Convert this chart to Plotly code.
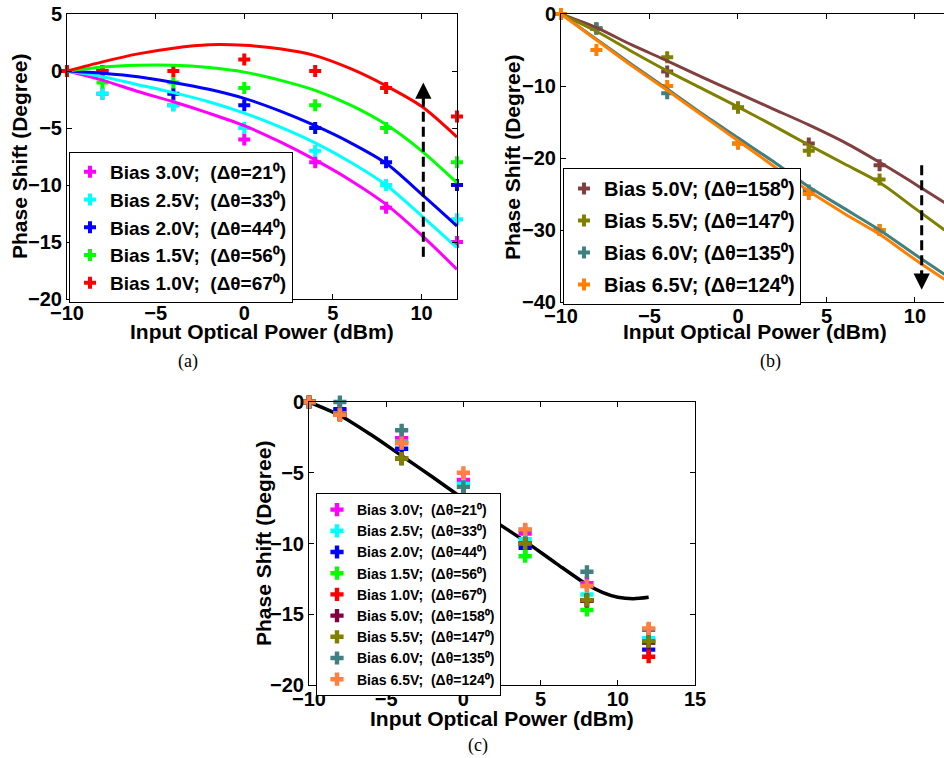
import plotly.graph_objects as go

# ---------------- Panel (a) data ----------------
a_x = [-10, -8, -4, 0, 4, 8, 12]
a_bias30 = [0, -2, -3, -6, -8, -12, -15]
a_bias25 = [0, -2, -3, -5, -7, -10, -13]
a_bias20 = [0, 0, -2, -3, -5, -8, -10]
a_bias15 = [0, -1, -1, -1.5, -3, -5, -8]
a_bias10 = [0, 0, 0, 1, 0, -1.5, -4]

a_fit_x = [-10, -8, -6, -4, -2, 0, 2, 4, 6, 8, 10, 12]
a_fit30 = [0, -0.8, -1.8, -2.7, -3.7, -4.8, -6.2, -7.8, -9.6, -11.7, -14.4, -17.4]
a_fit25 = [0, -0.5, -1.2, -1.9, -2.7, -3.7, -4.9, -6.3, -8.0, -10.0, -12.7, -15.5]
a_fit20 = [0, -0.2, -0.5, -1.0, -1.6, -2.4, -3.5, -4.8, -6.3, -8.1, -10.8, -13.6]
a_fit15 = [0, 0.35, 0.5, 0.5, 0.3, -0.1, -0.8, -1.7, -3.0, -4.7, -7.0, -9.8]
a_fit10 = [0, 0.8, 1.5, 2.0, 2.3, 2.25, 1.95, 1.35, 0.2, -1.3, -3.1, -5.8]

a_names = ["Bias 3.0V;\u00a0\u00a0(\u0394\u03b8=21\u2070)",
           "Bias 2.5V;\u00a0\u00a0(\u0394\u03b8=33\u2070)",
           "Bias 2.0V;\u00a0\u00a0(\u0394\u03b8=44\u2070)",
           "Bias 1.5V;\u00a0\u00a0(\u0394\u03b8=56\u2070)",
           "Bias 1.0V;\u00a0\u00a0(\u0394\u03b8=67\u2070)"]
a_colors = ["#FF00FF", "#00FFFF", "#0000FF", "#00FF00", "#FF0000"]

# ---------------- Panel (b) data ----------------
b_x = [-10, -8, -4, 0, 4, 8]
b_bias50 = [0, -2, -8, -13, -18, -21]
b_bias55 = [0, -2, -6, -13, -19, -23]
b_bias60 = [0, -2, -11, -18, -24.5, -30]
b_bias65 = [0, -5, -10, -18, -25, -30]

b_fit_x = [-10, -8, -6, -4, -2, 0, 2, 4, 6, 8, 10, 12]
b_fit50 = [0, -1.9, -4.3, -6.5, -8.8, -11.0, -13.2, -15.4, -17.8, -20.6, -23.6, -26.7]
b_fit55 = [0, -2.4, -5.2, -7.9, -10.4, -12.9, -15.5, -18.2, -20.8, -23.4, -27.0, -30.6]
b_fit60 = [0, -3.5, -7.0, -10.4, -13.9, -17.2, -20.5, -24.0, -27.0, -30.0, -33.4, -36.7]
b_fit65 = [0, -3.6, -7.2, -10.6, -14.1, -17.6, -21.1, -24.6, -27.7, -30.6, -34.1, -37.4]

b_names = ["Bias 5.0V; (\u0394\u03b8=158\u2070)",
           "Bias 5.5V; (\u0394\u03b8=147\u2070)",
           "Bias 6.0V; (\u0394\u03b8=135\u2070)",
           "Bias 6.5V; (\u0394\u03b8=124\u2070)"]
b_colors = ["#804040", "#808000", "#408080", "#FF8000"]

# ---------------- Panel (c) data ----------------
c_x = [-10, -8, -4, 0, 4, 8, 12]
c_bias30 = [0, -0.6, -2.55, -5.5, -9.3, -12.8, -16.8]
c_bias25 = [0, -0.8, -2.8, -5.8, -9.7, -13.6, -16.7]
c_bias20 = [0, -0.5, -3.3, -6.6, -10.3, -14.0, -17.5]
c_bias15 = [0, -0.9, -4.0, -7.0, -10.9, -14.7, -17.0]
c_bias10 = [0, -0.9, -2.9, -6.8, -10.0, -14.0, -18.0]
c_bias50 = [0, -0.9, -4.0, -6.7, -10.0, -14.05, -17.0]
c_bias55 = [0, -0.9, -4.0, -6.6, -10.0, -14.0, -16.9]
c_bias60 = [0, 0, -2.0, -6.0, -9.05, -12.0, -16.1]
c_bias65 = [0, -0.9, -2.9, -5.0, -9.0, -13.0, -16.0]

c_fit_x = [-10, -8, -6, -4, -2, 0, 2, 4, 6, 8, 9, 10, 11, 12]
c_fit_y = [0, -0.95, -2.3, -3.8, -5.3, -6.85, -8.4, -9.85, -11.4, -12.9, -13.45, -13.8, -13.9, -13.8]

c_names = a_names + ["Bias 5.0V;\u00a0\u00a0(\u0394\u03b8=158\u2070)",
                     "Bias 5.5V;\u00a0\u00a0(\u0394\u03b8=147\u2070)",
                     "Bias 6.0V;\u00a0\u00a0(\u0394\u03b8=135\u2070)",
                     "Bias 6.5V;\u00a0\u00a0(\u0394\u03b8=124\u2070)"]
c_colors = a_colors + ["#800040", "#808000", "#408080", "#FF8040"]

# tick values
tick5 = [-20, -15, -10, -5, 0, 5]
tick10 = [-40, -30, -20, -10, 0]
xticks_ab = [-10, -5, 0, 5, 10]
xticks_c = [-10, -5, 0, 5, 10, 15]

FONT = "Liberation Sans, Arial, Helvetica, sans-serif"
W, H = 944, 758

fig = go.Figure()

# panel (a)
a_pts = [a_bias30, a_bias25, a_bias20, a_bias15, a_bias10]
a_fits = [a_fit30, a_fit25, a_fit20, a_fit15, a_fit10]
for name, col, pts in zip(a_names, a_colors, a_pts):
    fig.add_trace(go.Scatter(x=a_x, y=pts, mode="markers", name=name,
                             marker=dict(symbol="cross", size=10, color=col),
                             cliponaxis=False, xaxis="x", yaxis="y", legend="legend"))
for col, fit in zip(a_colors, a_fits):
    fig.add_trace(go.Scatter(x=a_fit_x, y=fit, mode="lines", showlegend=False,
                             line=dict(color=col, width=3, shape="spline", smoothing=0.8),
                             xaxis="x", yaxis="y"))

# panel (b)
b_pts = [b_bias50, b_bias55, b_bias60, b_bias65]
b_fits = [b_fit50, b_fit55, b_fit60, b_fit65]
for i, (name, col, pts) in enumerate(zip(b_names, b_colors, b_pts)):
    fig.add_trace(go.Scatter(x=b_x, y=pts, mode="markers", name=name,
                             marker=dict(symbol="cross", size=10, color=col),
                             cliponaxis=False, xaxis="x2", yaxis="y2", legend="legend2",
                             legendgroup="b%d" % i))
for col, fit in zip(b_colors, b_fits):
    fig.add_trace(go.Scatter(x=b_fit_x, y=fit, mode="lines", showlegend=False,
                             line=dict(color=col, width=3, shape="spline", smoothing=0.8),
                             xaxis="x2", yaxis="y2"))

# panel (c)
fig.add_trace(go.Scatter(x=c_fit_x, y=c_fit_y, mode="lines", showlegend=False,
                         line=dict(color="black", width=3.5, shape="spline", smoothing=0.8),
                         xaxis="x3", yaxis="y3"))
c_pts = [c_bias30, c_bias25, c_bias20, c_bias15, c_bias10,
         c_bias50, c_bias55, c_bias60, c_bias65]
for i, (name, col, pts) in enumerate(zip(c_names, c_colors, c_pts)):
    fig.add_trace(go.Scatter(x=c_x, y=pts, mode="markers", name=name,
                             marker=dict(symbol="cross", size=11, color=col),
                             cliponaxis=False, xaxis="x3", yaxis="y3", legend="legend3",
                             legendgroup="c%d" % i))


def ax(domain, rng, ticks, anchor, mirror="allticks", standoff=0):
    return dict(domain=domain, range=rng, tickvals=ticks, anchor=anchor,
                showline=True, linecolor="black", linewidth=1, mirror=mirror,
                ticks="inside", ticklen=5, tickcolor="black", tickwidth=1,
                showgrid=False, zeroline=False, automargin=False,
                ticklabelstandoff=standoff,
                tickfont=dict(family=FONT, size=20, color="black", weight="bold"))


fig.update_layout(
    width=W, height=H, autosize=False,
    margin=dict(l=0, r=0, t=0, b=0, pad=0, autoexpand=False),
    paper_bgcolor="white", plot_bgcolor="white",
    xaxis=ax([67 / W, 457 / W], [-10, 12], xticks_ab, "y", standoff=-4),
    yaxis=ax([1 - 299 / H, 1 - 14 / H], [-20, 5], tick5, "x"),
    xaxis2=ax([561 / W, 1.0], [-10, 11.64], xticks_ab, "y2", standoff=-4),
    yaxis2=ax([1 - 302 / H, 1 - 14 / H], [-40, 0], tick10, "x2", mirror=False),
    xaxis3=ax([309 / W, 695 / W], [-10, 15], xticks_c, "y3", standoff=-4),
    yaxis3=ax([1 - 685 / H, 1 - 402 / H], [-20, 0], tick5, "x3"),
    legend=dict(x=69 / W, y=1 - 152 / H, xanchor="left", yanchor="top",
                bgcolor="white", bordercolor="black", borderwidth=1,
                font=dict(family=FONT, size=19, color="black", weight="bold"),
                itemwidth=30),
    legend2=dict(x=563 / W, y=1 - 168 / H, xanchor="left", yanchor="top",
                 bgcolor="white", bordercolor="black", borderwidth=1,
                 traceorder="grouped", tracegroupgap=3,
                 font=dict(family=FONT, size=20, color="black", weight="bold"),
                 itemwidth=30),
    legend3=dict(x=316 / W, y=1 - 493 / H, xanchor="left", yanchor="top",
                 bgcolor="white", bordercolor="black", borderwidth=1,
                 traceorder="grouped", tracegroupgap=0,
                 font=dict(family=FONT, size=14, color="black", weight="bold"),
                 itemwidth=30),
)

# dashed arrows
fig.add_shape(type="line", xref="x", yref="y", x0=10.1, x1=10.1, y0=-16.3, y1=-2.2,
              line=dict(color="black", width=3, dash="10px,5px"))
fig.add_annotation(xref="x", yref="y", axref="x", ayref="y", x=10.1, y=-1.0,
                   ax=10.1, ay=-3.0, text="", showarrow=True, arrowhead=2,
                   arrowsize=1.3, arrowwidth=2.5, arrowcolor="black")
fig.add_shape(type="line", xref="x2", yref="y2", x0=10.38, x1=10.38, y0=-21, y1=-36.5,
              line=dict(color="black", width=3, dash="10px,5px"))
fig.add_annotation(xref="x2", yref="y2", axref="x2", ayref="y2", x=10.38, y=-38.3,
                   ax=10.38, ay=-35.5, text="", showarrow=True, arrowhead=2,
                   arrowsize=1.3, arrowwidth=2.5, arrowcolor="black")

# axis titles
title_font = dict(family=FONT, size=21, color="black", weight="bold")
for xc, yc in [(262, 331), (755, 331), (502, 718)]:
    fig.add_annotation(xref="paper", yref="paper", x=xc / W, y=1 - yc / H,
                       text="Input Optical Power (dBm)", showarrow=False,
                       font=title_font, xanchor="center", yanchor="middle")
for xc, yc in [(20, 157), (513, 158), (263, 544)]:
    fig.add_annotation(xref="paper", yref="paper", x=xc / W, y=1 - yc / H,
                       text="Phase Shift (Degree)", showarrow=False, textangle=-90,
                       font=title_font, xanchor="center", yanchor="middle")

# captions
cap_font = dict(family="Liberation Serif, Times New Roman, serif", size=18, color="black")
for txt, xc, yc in [("(a)", 188, 361), ("(b)", 770, 361), ("(c)", 478, 745)]:
    fig.add_annotation(xref="paper", yref="paper", x=xc / W, y=1 - yc / H,
                       text=txt, showarrow=False, font=cap_font,
                       xanchor="center", yanchor="middle")

fig.write_html("out.html",
               config={"displayModeBar": False},
               post_script="document.body.style.margin='0px';"
                           "document.body.style.padding='0px';"
                           "document.body.style.overflow='hidden';")
